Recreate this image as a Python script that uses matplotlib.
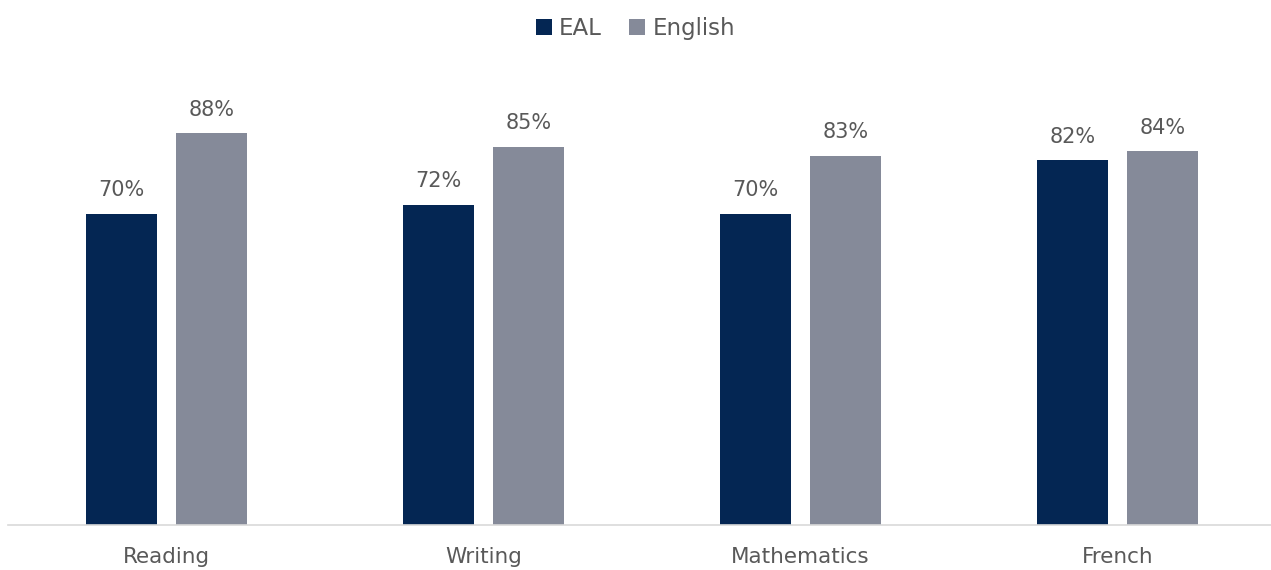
import numpy as np
import matplotlib.pyplot as plt

categories = ["Reading", "Writing", "Mathematics", "French"]
eal = [70, 72, 70, 82]
english = [88, 85, 83, 84]

EAL_COLOR = "#042653"
ENG_COLOR = "#858A99"
TEXT_COLOR = "#595959"

plt.rcParams["font.family"] = ["DejaVu Sans"]

fig = plt.figure(figsize=(12.71, 5.7), dpi=100)
ax = fig.add_axes([8 / 1271, 45 / 570, 1268 / 1271, 445 / 570])

x = np.arange(len(categories))
w = 0.224
off = 0.142
b1 = ax.bar(x - off, eal, w, color=EAL_COLOR, label="EAL")
b2 = ax.bar(x + off, english, w, color=ENG_COLOR, label="English")

for bars, vals in [(b1, eal), (b2, english)]:
    for bar, v in zip(bars, vals):
        ax.text(bar.get_x() + bar.get_width() / 2, v + 3.0, f"{v}%",
                ha="center", va="bottom", fontsize=15, color=TEXT_COLOR)

ax.set_xlim(-0.5, len(categories) - 0.5)
ax.set_ylim(0, 100)
ax.set_yticks([])
ax.set_xticks(x)
ax.set_xticklabels(categories, fontsize=15.5, color=TEXT_COLOR)
ax.tick_params(axis="x", length=0, pad=16)
for s in ["top", "right", "left"]:
    ax.spines[s].set_visible(False)
ax.spines["bottom"].set_color("#D9D9D9")
ax.spines["bottom"].set_linewidth(1.2)

fig.legend(loc="upper center", bbox_to_anchor=(0.5, 1.006), ncol=2, frameon=False,
           fontsize=16.5, labelcolor=TEXT_COLOR, handlelength=0.7, handleheight=0.7,
           handletextpad=0.3, columnspacing=1.2)

fig.savefig("out.png", dpi=100)
